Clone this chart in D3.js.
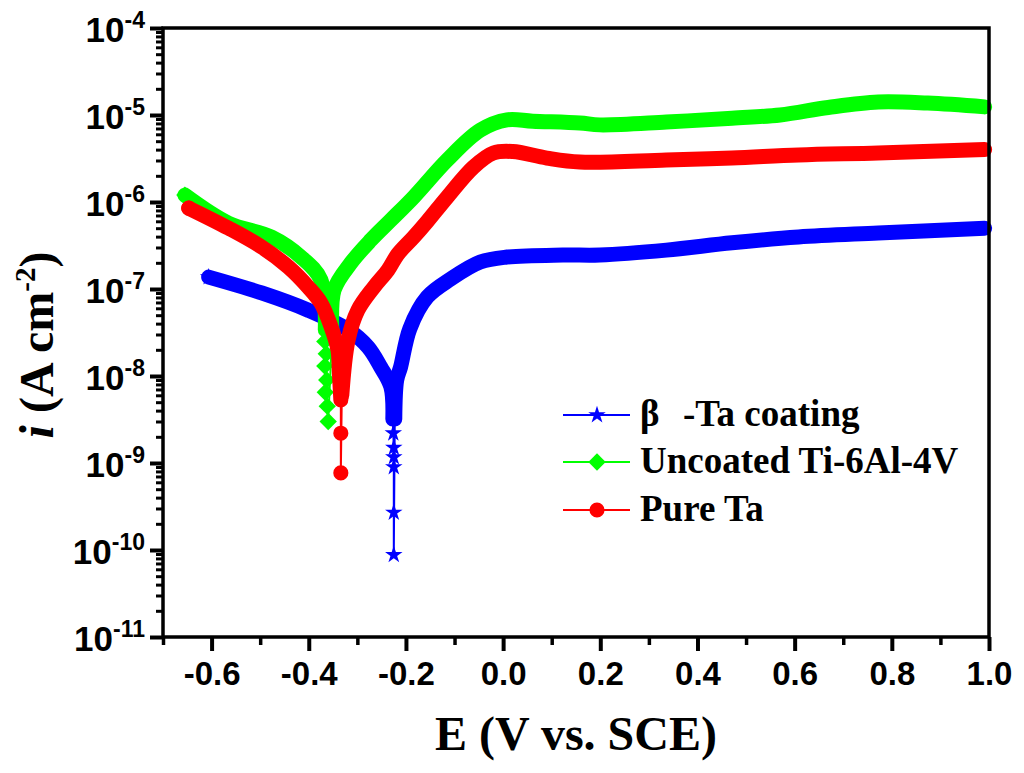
<!DOCTYPE html>
<html>
<head>
<meta charset="utf-8">
<script src="https://cdn.jsdelivr.net/npm/d3@7"></script>
<style>
  html, body { margin: 0; padding: 0; background: #fff; }
  svg { display: block; }
</style>
</head>
<body>
<svg id="chart" width="1024" height="773"></svg>
<script>
// ---- Data (E in V vs. SCE, i in A cm^-2) ----
// β-Ta coating
const betaCathE = [-0.606, -0.497, -0.401, -0.319, -0.278, -0.252, -0.231, -0.227];
const betaCathI = [1.37e-7, 9.0e-8, 5.7e-8, 3.4e-8, 2.15e-8, 1.27e-8, 7.5e-9, 3.2e-9];
const betaTailE = [-0.226, -0.225, -0.225, -0.225, -0.225, -0.225];
const betaTailI = [2.2e-9, 1.5e-9, 1.17e-9, 9.0e-10, 2.7e-10, 8.8e-11];
const betaAnodE = [-0.223, -0.219, -0.211, -0.192, -0.156, -0.108, -0.047, 0.008, 0.123, 0.199, 0.336, 0.471, 0.608, 0.772, 0.991];
const betaAnodI = [3.2e-9, 9.0e-9, 1.27e-8, 3.5e-8, 8.1e-8, 1.3e-7, 2.04e-7, 2.33e-7, 2.46e-7, 2.46e-7, 2.8e-7, 3.4e-7, 3.96e-7, 4.4e-7, 5.0e-7];

// Uncoated Ti-6Al-4V
const tiCathE = [-0.655, -0.565, -0.477, -0.416, -0.375, -0.366];
const tiCathI = [1.2e-6, 5.7e-7, 3.96e-7, 2.33e-7, 1.27e-7, 3.4e-8];
const tiTailE = [-0.367, -0.364, -0.367, -0.363, -0.366, -0.362, -0.360];
const tiTailI = [2.5e-8, 1.8e-8, 1.3e-8, 9.0e-9, 6.5e-9, 4.5e-9, 3.0e-9];
const tiAnodE = [-0.352, -0.348, -0.313, -0.272, -0.231, -0.184, -0.115, -0.047, 0.008, 0.061, 0.158, 0.199, 0.336, 0.471, 0.570, 0.669, 0.772, 0.874, 0.991];
const tiAnodI = [3.0e-8, 9.7e-8, 2.0e-7, 3.66e-7, 6.2e-7, 1.14e-6, 3.04e-6, 6.7e-6, 8.8e-6, 8.5e-6, 8.1e-6, 7.7e-6, 8.3e-6, 9.2e-6, 1.0e-5, 1.22e-5, 1.41e-5, 1.37e-5, 1.24e-5];

// Pure Ta
const taCathE = [-0.647, -0.565, -0.497, -0.442, -0.401, -0.375, -0.354, -0.340, -0.337, -0.334];
const taCathI = [8.5e-7, 5.0e-7, 3.04e-7, 1.79e-7, 1.05e-7, 6.9e-8, 3.66e-8, 2.0e-8, 1.08e-8, 5.3e-9];
const taTailE = [-0.334, -0.334];
const taTailI = [2.2e-9, 7.7e-10];
const taAnodE = [-0.332, -0.319, -0.299, -0.266, -0.237, -0.217, -0.184, -0.156, -0.115, -0.061, -0.020, 0.020, 0.090, 0.158, 0.336, 0.471, 0.608, 0.772, 0.991];
const taAnodI = [6.0e-9, 2.6e-8, 5.7e-8, 1.05e-7, 1.65e-7, 2.5e-7, 3.96e-7, 6.0e-7, 1.14e-6, 2.52e-6, 3.66e-6, 3.8e-6, 3.2e-6, 2.88e-6, 3.04e-6, 3.2e-6, 3.47e-6, 3.66e-6, 4.0e-6];

const seriesNames = ["β-Ta coating", "Uncoated Ti-6Al-4V", "Pure Ta"];
const seriesColors = ["#0000ff", "#00ff00", "#ff0000"];

const xMajorTicks = [-0.6, -0.4, -0.2, 0.0, 0.2, 0.4, 0.6, 0.8, 1.0];
const xMinorTicks = [-0.7, -0.5, -0.3, -0.1, 0.1, 0.3, 0.5, 0.7, 0.9];
const yExponents = [-11, -10, -9, -8, -7, -6, -5, -4];
const yMinorMult = [2, 3, 4, 5, 6, 7, 8, 9];

// ---- Layout ----
const svg = d3.select("#chart");
const mL = 163, mR = 989, mT = 28, mB = 637;

const x = d3.scaleLinear().domain([-0.7, 1.0]).range([mL, mR]);
const y = d3.scaleLog().domain([1e-11, 1e-4]).range([mB, mT]);

const zip = (E, I) => E.map((e, k) => ({ e, i: I[k] }));

const series = [
  { cath: zip(betaCathE, betaCathI), tail: zip(betaTailE, betaTailI), anod: zip(betaAnodE, betaAnodI), sym: "star" },
  { cath: zip(tiCathE, tiCathI), tail: zip(tiTailE, tiTailI), anod: zip(tiAnodE, tiAnodI), sym: "diamond" },
  { cath: zip(taCathE, taCathI), tail: zip(taTailE, taTailI), anod: zip(taAnodE, taAnodI), sym: "circle" }
];

function symbolPath(kind) {
  if (kind === "star") return d3.symbol().type(d3.symbolStar).size(95)();
  if (kind === "diamond") return d3.symbol().type(d3.symbolSquare).size(150)();
  return d3.symbol().type(d3.symbolCircle).size(180)();
}
function symbolTransform(kind, px, py) {
  return kind === "diamond" ? `translate(${px},${py}) rotate(45)` : `translate(${px},${py})`;
}

const thin = d3.line().x(d => x(d.e)).y(d => y(d.i));
const band = d3.line().x(d => x(d.e)).y(d => y(d.i)).curve(d3.curveCatmullRom.alpha(0.5));

const plot = svg.append("g");
series.forEach((s, k) => {
  const col = seriesColors[k];
  const g = plot.append("g");
  const all = s.cath.concat(s.tail, s.anod);
  g.append("path").attr("d", thin(all)).attr("fill", "none").attr("stroke", col).attr("stroke-width", 2);
  [s.cath, s.anod].forEach(part => {
    g.append("path").attr("d", band(part)).attr("fill", "none").attr("stroke", col)
      .attr("stroke-width", 15).attr("stroke-linejoin", "round").attr("stroke-linecap", "round");
  });
  const marks = [s.cath[0]].concat(s.tail);
  g.selectAll("path.m").data(marks).enter().append("path").attr("class", "m")
    .attr("d", symbolPath(s.sym))
    .attr("transform", d => symbolTransform(s.sym, x(d.e), y(d.i)))
    .attr("fill", col);
});

// ---- Axes ----
const axisColor = "#000";
const xAxis = svg.append("g").attr("transform", `translate(0,${mB})`)
  .call(d3.axisBottom(x).tickValues(xMajorTicks).tickSize(14).tickSizeOuter(0).tickPadding(11)
    .tickFormat(d => d.toFixed(1)));
xAxis.select(".domain").remove();
xAxis.selectAll(".tick line").attr("stroke", axisColor).attr("stroke-width", 4);
xAxis.selectAll(".tick text").attr("font-family", "'Liberation Sans', Arial, sans-serif")
  .attr("font-weight", "bold").attr("font-size", 33).attr("fill", "#000");
const xMinor = svg.append("g").attr("transform", `translate(0,${mB})`)
  .call(d3.axisBottom(x).tickValues(xMinorTicks).tickSize(8).tickSizeOuter(0).tickFormat(""));
xMinor.select(".domain").remove();
xMinor.selectAll(".tick line").attr("stroke", axisColor).attr("stroke-width", 3.5);

const yMajorVals = yExponents.map(p => Math.pow(10, p));
const yMinorVals = [];
yExponents.slice(0, -1).forEach(p => yMinorMult.forEach(m => yMinorVals.push(m * Math.pow(10, p))));
const yAxis = svg.append("g").attr("transform", `translate(${mL},0)`)
  .call(d3.axisLeft(y).tickValues(yMajorVals).tickSize(13).tickSizeOuter(0).tickFormat(""));
yAxis.select(".domain").remove();
yAxis.selectAll(".tick line").attr("stroke", axisColor).attr("stroke-width", 4);
const yMinor = svg.append("g").attr("transform", `translate(${mL},0)`)
  .call(d3.axisLeft(y).tickValues(yMinorVals).tickSize(7).tickSizeOuter(0).tickFormat(""));
yMinor.select(".domain").remove();
yMinor.selectAll(".tick line").attr("stroke", axisColor).attr("stroke-width", 3);

const yLab = svg.append("g").attr("font-family", "'Liberation Sans', Arial, sans-serif")
  .attr("font-weight", "bold").attr("fill", "#000");
yExponents.forEach(p => {
  const t = yLab.append("text").attr("x", 145).attr("y", y(Math.pow(10, p)) + 14)
    .attr("text-anchor", "end").attr("font-size", 35);
  t.append("tspan").text("10");
  t.append("tspan").attr("dy", -14).attr("font-size", 23).text("-" + Math.abs(p));
});

svg.append("rect").attr("x", mL).attr("y", mT).attr("width", mR - mL).attr("height", mB - mT)
  .attr("fill", "none").attr("stroke", "#000").attr("stroke-width", 3.5);

// ---- Titles ----
svg.append("text").attr("x", (mL + mR) / 2).attr("y", 750).attr("text-anchor", "middle")
  .attr("font-family", "'Liberation Serif', 'Times New Roman', serif").attr("font-weight", "bold")
  .attr("font-size", 48).attr("fill", "#000").text("E (V vs. SCE)");

const yt = svg.append("text").attr("transform", "translate(53,345) rotate(-90)").attr("text-anchor", "middle")
  .attr("font-family", "'Liberation Serif', 'Times New Roman', serif").attr("font-weight", "bold")
  .attr("font-size", 48).attr("fill", "#000");
yt.append("tspan").attr("font-style", "italic").text("i");
yt.append("tspan").text(" (A cm");
yt.append("tspan").attr("dy", -18).attr("font-size", 29).text("-2");
yt.append("tspan").attr("dy", 18).text(")");

// ---- Legend ----
const legRows = [415, 462, 510];
const leg = svg.append("g");
series.forEach((s, k) => {
  const ry = legRows[k];
  leg.append("line").attr("x1", 563).attr("x2", 630).attr("y1", ry).attr("y2", ry)
    .attr("stroke", seriesColors[k]).attr("stroke-width", 2);
  leg.append("path").attr("d", symbolPath(s.sym)).attr("transform", symbolTransform(s.sym, 597, ry))
    .attr("fill", seriesColors[k]);
  const t = leg.append("text").attr("x", 640).attr("y", ry + 11)
    .attr("font-family", "'Liberation Serif', 'Times New Roman', serif").attr("font-weight", "bold")
    .attr("font-size", 37).attr("fill", "#000");
  if (k === 0) {
    t.append("tspan").text(seriesNames[0].slice(0, 1));
    t.append("tspan").attr("x", 683).text(seriesNames[0].slice(1));
  } else {
    t.text(seriesNames[k]);
  }
});
</script>
</body>
</html>
